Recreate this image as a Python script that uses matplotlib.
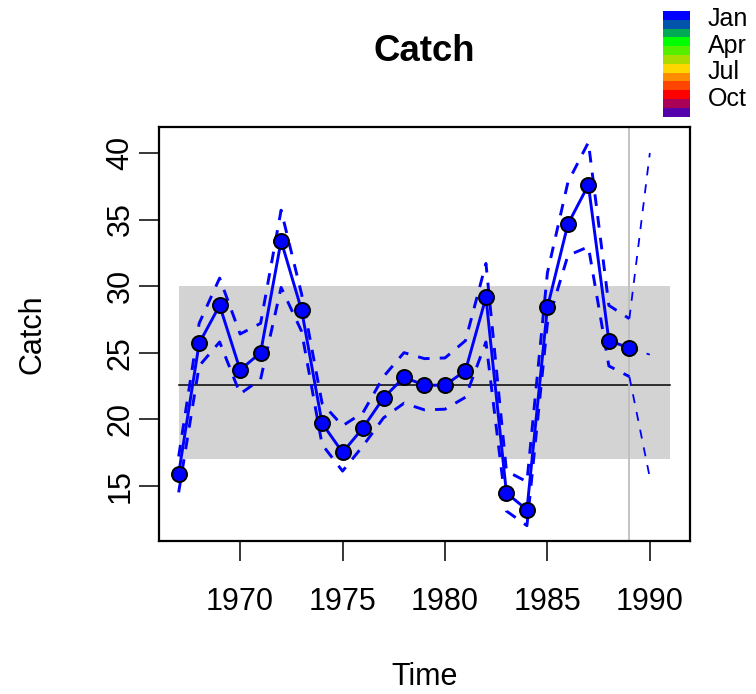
import matplotlib
matplotlib.use("Agg")
import matplotlib.pyplot as plt
from matplotlib.patches import Rectangle

plt.rcParams["font.family"] = ["Liberation Sans", "DejaVu Sans"]

# observed series with the dashed uncertainty band
years = list(range(1967, 1990))
catch = [15.9, 25.7, 28.55, 23.7, 25.0, 33.4, 28.2, 19.7, 17.5, 19.35, 21.6, 23.15,
         22.55, 22.55, 23.65, 29.15, 14.45, 13.2, 28.4, 34.65, 37.6, 25.9, 25.35]
upper = [17.2, 27.2, 30.6, 26.4, 27.2, 35.7, 29.4, 21.2, 19.5, 20.5, 23.2, 25.0,
         24.55, 24.6, 25.9, 31.7, 16.1, 15.3, 31.0, 37.8, 40.8, 28.55, 27.55]
lower = [14.5, 24.0, 25.8, 21.9, 23.0, 29.9, 26.6, 18.1, 16.1, 18.0, 20.1, 21.2,
         20.7, 20.75, 21.65, 25.8, 13.1, 12.0, 27.2, 32.3, 32.95, 24.0, 23.2]

# one-step forecast
fc_years = [1989, 1990]
fc_mean = [25.35, 24.85]
fc_upper = [27.55, 40.0]
fc_lower = [23.2, 15.6]

ref_level = 22.6
ref_band = (17.0, 30.0)
band_years = (1967, 1991)
now_year = 1989

month_colors = ["#0000FF", "#0055AA", "#00AA55", "#00FF00", "#55F000", "#AADC00",
                "#FFD700", "#FF8C00", "#FF4500", "#FF0000", "#AA0055", "#5500AA"]
month_labels = ["Jan", "Apr", "Jul", "Oct"]

fig = plt.figure(figsize=(7.56, 6.94), dpi=100)
ax = fig.add_axes([159 / 756, 1 - 541 / 694, 531 / 756, 414 / 694])

ax.add_patch(Rectangle((band_years[0], ref_band[0]), band_years[1] - band_years[0],
                       ref_band[1] - ref_band[0], facecolor="#d3d3d3",
                       edgecolor="none", zorder=0))
ax.plot(band_years, [ref_level, ref_level], color="black", lw=1.1, zorder=1)
ax.axvline(now_year, color="#bebebe", lw=1.3, zorder=1)

dash = (0, (4, 3.5))
ax.plot(years, upper, color="blue", lw=2.1, linestyle=dash, zorder=2)
ax.plot(years, lower, color="blue", lw=2.1, linestyle=dash, zorder=2)
ax.plot(fc_years, fc_upper, color="blue", lw=1.3, linestyle=(0, (5, 5)), zorder=2)
ax.plot(fc_years, fc_lower, color="blue", lw=1.3, linestyle=(0, (5, 5)), zorder=2)
ax.plot(fc_years, fc_mean, color="blue", lw=1.3, linestyle=(0, (5, 5)), zorder=2)
ax.plot(years, catch, color="blue", lw=2.1, marker="o", markersize=10.8,
        markerfacecolor="blue", markeredgecolor="black", markeredgewidth=1.4, zorder=3)

span = 24 * 0.04
ax.set_xlim(1967 - span, 1991 + span)
ylo, yhi = 12.0, 40.8
pad = (yhi - ylo) * 0.04
ax.set_ylim(ylo - pad, yhi + pad)

ax.set_xticks([1970, 1975, 1980, 1985, 1990])
ax.set_yticks([15, 20, 25, 30, 35, 40])
ax.tick_params(axis="both", length=14.4, width=1.1, labelsize=22)
ax.tick_params(axis="x", pad=19)
ax.tick_params(axis="y", pad=2.5)
for lbl in ax.get_yticklabels():
    lbl.set_rotation(90)
    lbl.set_va("center")
for side in ax.spines.values():
    side.set_linewidth(1.6)

ax.set_title("Catch", fontsize=26.4, fontweight="bold", pad=47.5)
ax.set_xlabel("Time", fontsize=22, labelpad=32)
ax.set_ylabel("Catch", fontsize=22, labelpad=42)

# month colour key in the top right corner
box_top, box_h = 11, 8.8
for i, col in enumerate(month_colors):
    y0 = box_top + i * box_h
    fig.patches.append(Rectangle((663 / 756, 1 - (y0 + box_h) / 694), 27 / 756, box_h / 694,
                                 transform=fig.transFigure, facecolor=col,
                                 edgecolor="none"))
for k, txt in enumerate(month_labels):
    base = box_top + (3 * k + 0.5) * box_h + 11
    fig.text(708 / 756, 1 - base / 694, txt, fontsize=18, va="baseline", ha="left")

fig.savefig("out.png", dpi=100)
